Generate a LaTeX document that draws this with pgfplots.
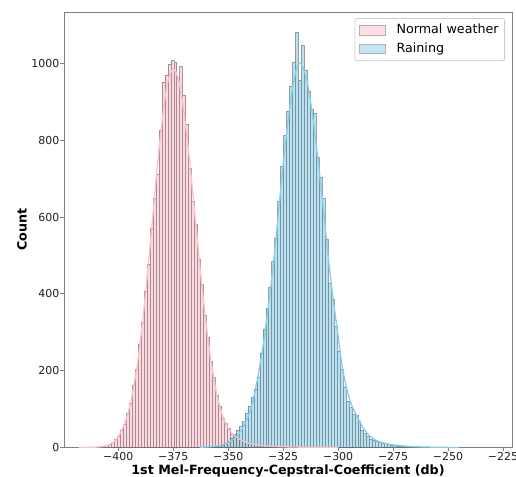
\documentclass[border=0pt]{standalone}
\usepackage{fontspec}
\setmainfont{DejaVu Sans}
\usepackage{pgfplots}
\usepackage{pgfplotstable}
\pgfplotsset{compat=1.18}

\definecolor{pinkc}{HTML}{FFC0CB}
\definecolor{skyc}{HTML}{87CEEB}
\definecolor{spine}{HTML}{808080}

% histogram counts per bin (left bin edge, count); last row closes the final bin
\pgfplotstableread{
edge count
-412.55 1
-411.20 1
-409.85 1
-408.50 2
-407.15 4
-405.80 5
-404.45 9
-403.10 13
-401.75 22
-400.40 30
-399.05 46
-397.70 61
-396.35 90
-395.00 116
-393.65 161
-392.30 203
-390.95 268
-389.60 326
-388.25 408
-386.90 478
-385.55 572
-384.20 648
-382.85 712
-381.50 826
-380.15 952
-378.80 970
-377.45 998
-376.10 1008
-374.75 1003
-373.40 962
-372.05 992
-370.70 918
-369.35 842
-368.00 727
-366.65 640
-365.30 581
-363.95 490
-362.60 424
-361.25 345
-359.90 286
-358.55 224
-357.20 182
-355.85 136
-354.50 107
-353.15 76
-351.80 62
-350.45 49
-349.10 34
-347.75 31
-346.40 23
-345.05 20
-343.70 15
-342.35 14
-341.00 10
-339.65 9
-338.30 8
-336.95 7
-335.60 5
-334.25 6
-332.90 4
-331.55 4
-330.20 3
-328.85 3
-327.50 3
-326.15 2
-324.80 2
-323.45 2
-322.10 1
-320.75 2
-319.40 1
-318.05 1
-316.70 1
-315.35 1
-314.00 1
-312.65 0
}\normaltab

\pgfplotstableread{
edge count
-363.95 1
-362.60 0
-361.25 1
-359.90 1
-358.55 2
-357.20 2
-355.85 3
-354.50 5
-353.15 7
-351.80 11
-350.45 17
-349.10 25
-347.75 34
-346.40 45
-345.05 55
-343.70 67
-342.35 89
-341.00 108
-339.65 131
-338.30 152
-336.95 184
-335.60 246
-334.25 309
-332.90 362
-331.55 416
-330.20 484
-328.85 546
-327.50 641
-326.15 733
-324.80 812
-323.45 876
-322.10 941
-320.75 1003
-319.40 1080
-318.05 956
-316.70 1048
-315.35 983
-314.00 928
-312.65 880
-311.30 871
-309.95 757
-308.60 704
-307.25 648
-305.90 543
-304.55 428
-303.20 385
-301.85 316
-300.50 251
-299.15 204
-297.80 158
-296.45 121
-295.10 104
-293.75 86
-292.40 83
-291.05 67
-289.70 46
-288.35 36
-287.00 28
-285.65 21
-284.30 19
-282.95 15
-281.60 13
-280.25 12
-278.90 10
-277.55 9
-276.20 6
-274.85 5
-273.50 4
-272.15 3
-270.80 2
-269.45 2
-268.10 2
-266.75 1
-265.40 1
-264.05 1
-262.70 0
-261.35 1
-260.00 0
-258.65 0
}\raintab

\pgfplotsset{
  patchlegend/.style={legend image code/.code={\draw[sharp corners,##1] (0bp,-4.6bp) rectangle (26bp,4.6bp);}},
  histbar/.style={ybar interval, fill opacity=0.6, draw=black!75, draw opacity=0.48, line width=0.55bp, forget plot},
}

\begin{document}
\begin{tikzpicture}
\begin{axis}[
  at={(0,0)}, anchor=south west,
  scale only axis, width=448bp, height=435.5bp,
  xmin=-424.7, xmax=-220.9, ymin=0, ymax=1134,
  axis line style={spine, line width=0.8bp},
  xtick={-400,-375,-350,-325,-300,-275,-250,-225},
  xticklabels={−400,−375,−350,−325,−300,−275,−250,−225},
  ytick={0,200,400,600,800,1000},
  yticklabels={0,200,400,600,800,1000},
  xtick pos=bottom, ytick pos=left,
  tick align=outside, major tick length=3.5bp,
  tick style={spine, line width=0.8bp},
  ticklabel style={font=\fontsize{11}{13}\selectfont, inner sep=0pt, text=black!88},
  xticklabel style={anchor=north, yshift=-1bp},
  yticklabel style={anchor=east, xshift=-1bp},
  xlabel={1st Mel-Frequency-Cepstral-Coefficient (db)},
  ylabel={Count},
  label style={font=\bfseries\fontsize{12.75}{15}\selectfont},
  x label style={at={(axis description cs:0.5,0)}, anchor=north, inner sep=0pt, yshift=-17bp},
  y label style={at={(axis description cs:-0.0938,0.5)}, anchor=center, inner sep=0pt},
  legend cell align=left,
  legend style={at={(rel axis cs:0.9844,0.9862)}, anchor=north east,
    draw=black!20, line width=0.8bp, rounded corners=2.5bp, fill=white,
    inner xsep=4bp, inner ysep=2.5bp,
    font=\fontsize{12.75}{15}\selectfont,
    nodes={inner xsep=2bp, inner ysep=3.3bp, text height=9.5bp, text depth=2.6bp},
    /tikz/every odd column/.append style={column sep=9bp}},
]
% histograms
\addplot[histbar, fill=pinkc] table[x=edge, y=count] {\normaltab};
\addplot[histbar, fill=skyc] table[x=edge, y=count] {\raintab};

% density estimates
\addplot[pinkc, line width=1.3bp, smooth, forget plot] coordinates {
(-418,0) (-412,0.5) (-408,2) (-405,6) (-402,15) (-400,29) (-397,64) (-394,128)
(-391,231) (-388,379) (-385,559) (-382,747) (-379,900) (-377,963) (-375,985)
(-373,965) (-371,909) (-368,771) (-365,597) (-362,423) (-359,274) (-356,162)
(-353,90) (-350,50) (-347,30) (-344,19) (-341,12) (-338,8) (-334,5) (-330,3)
(-325,2) (-318,1) (-310,0.5) (-300,0)};
\addplot[skyc, line width=1.3bp, smooth, forget plot] coordinates {
(-363,0.5) (-358,2) (-355,4) (-352,8) (-349,16) (-346,30) (-343,55) (-340,95)
(-338,140) (-336,200) (-334,270) (-332,355) (-330,450) (-328,560) (-326,680)
(-324,790) (-322,885) (-320,960) (-318,1000) (-316,990) (-314,950) (-312,880)
(-310,790) (-308,690) (-306,580) (-304,470) (-302,375) (-300,290) (-298,205)
(-296,152) (-294,112) (-292,88) (-290,65) (-288,46) (-286,32) (-284,23)
(-282,17) (-280,13) (-278,10) (-275,7) (-270,4) (-265,2) (-258,1) (-250,0.3)
(-245,0)};

\addlegendimage{patchlegend, fill=pinkc!50!white, draw=black!30, line width=0.6bp}
\addlegendentry{Normal weather}
\addlegendimage{patchlegend, fill=skyc!50!white, draw=black!30, line width=0.6bp}
\addlegendentry{Raining}
\end{axis}
\pgfresetboundingbox
\useasboundingbox ([shift={(-64bp,-29.5bp)}]current axis.south west) rectangle ([shift={(4bp,12bp)}]current axis.north east);
\end{tikzpicture}
\end{document}
